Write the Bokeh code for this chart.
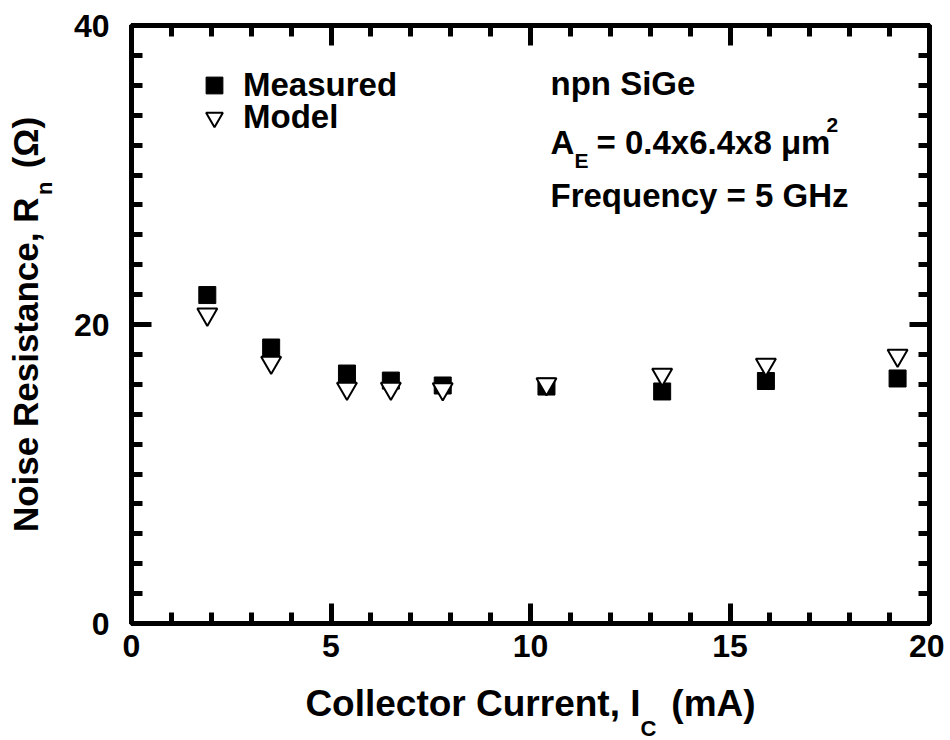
from bokeh.plotting import figure
from bokeh.models import (LinearAxis, SingleIntervalTicker, FixedTicker, Label,
                          Legend, LegendItem, Range1d, Title,
                          CustomJSTickFormatter)
from bokeh.embed import file_html
from bokeh.resources import INLINE

# ---------------- data ----------------
current_ma = [1.9, 3.5, 5.4, 6.5, 7.8, 10.4, 13.3, 15.9, 19.2]
rn_measured = [21.97, 18.46, 16.72, 16.25, 15.92, 15.85, 15.52, 16.22, 16.39]
rn_model = [20.68, 17.46, 15.72, 15.72, 15.69, 16.02, 16.66, 17.32, 17.93]
x_major = 5
y_major = 20
series_names = ["Measured", "Model"]

FONT = "Liberation Sans"
NB = "\u00a0"

# frame placement (canvas pixels)
FL, FR, FT, FB = 131, 929, 25, 623
W, H = 944, 739

p = figure(width=W, height=H, x_range=Range1d(0, 20), y_range=Range1d(0, 40),
           output_backend="svg", toolbar_location=None,
           min_border_left=FL, min_border_right=W - FR,
           min_border_top=FT, min_border_bottom=H - FB)

p.xgrid.visible = False
p.ygrid.visible = False
p.outline_line_color = "black"
p.outline_line_width = 5
p.background_fill_color = "white"
p.border_fill_color = "white"

blank_fmt = CustomJSTickFormatter(code="return ''")

bottom_axis = p.below[0]
left_axis = p.left[0]


def style_axis(ax, ticker, labels=True):
    ax.ticker = ticker
    ax.axis_line_color = None
    ax.major_tick_in = 20
    ax.major_tick_out = 0
    ax.minor_tick_in = 11
    ax.minor_tick_out = 0
    ax.major_tick_line_width = 5
    ax.minor_tick_line_width = 5
    ax.major_tick_line_color = "black"
    ax.minor_tick_line_color = "black"
    ax.major_tick_line_cap = "butt"
    ax.minor_tick_line_cap = "butt"
    if labels:
        ax.major_label_text_font = FONT
        ax.major_label_text_font_style = "bold"
        ax.major_label_text_font_size = "32px"
        ax.major_label_text_color = "black"
    else:
        ax.formatter = blank_fmt
        ax.major_label_standoff = 0


style_axis(bottom_axis, SingleIntervalTicker(interval=x_major, num_minor_ticks=5))
style_axis(left_axis, SingleIntervalTicker(interval=y_major, num_minor_ticks=10))
bottom_axis.major_label_standoff = 11
left_axis.major_label_standoff = 22

top_axis = LinearAxis()
style_axis(top_axis, SingleIntervalTicker(interval=x_major, num_minor_ticks=5), labels=False)
right_axis = LinearAxis()
style_axis(right_axis, SingleIntervalTicker(interval=y_major, num_minor_ticks=10), labels=False)
p.add_layout(top_axis, "above")
p.add_layout(right_axis, "right")

# ---------------- axis titles ----------------
bottom_axis.axis_label = "Collector Current, I" + NB * 3 + "(mA)"
bottom_axis.axis_label_text_font = FONT
bottom_axis.axis_label_text_font_style = "bold"
bottom_axis.axis_label_text_font_size = "37px"
bottom_axis.axis_label_text_color = "black"
bottom_axis.axis_label_standoff = 23

sub_c = Title(text="C", align="left", offset=509, vertical_align="top",
              standoff=-21, text_font=FONT, text_font_style="bold",
              text_font_size="22px", text_color="black")
p.add_layout(sub_c, "below")

sub_n = Title(text="n", align="right", offset=156, vertical_align="bottom",
              standoff=28, text_font=FONT, text_font_style="bold",
              text_font_size="22px", text_color="black")
p.add_layout(sub_n, "left")

ytitle_axis = LinearAxis(ticker=FixedTicker(ticks=[]), axis_line_color=None,
                         major_tick_in=0, major_tick_out=0, minor_tick_in=0,
                         minor_tick_out=0, major_label_standoff=0,
                         axis_label="Noise Resistance, R" + NB * 3 + "(\u03a9)",
                         axis_label_standoff=-29,
                         axis_label_text_font=FONT,
                         axis_label_text_font_style="bold",
                         axis_label_text_font_size="35px",
                         axis_label_text_color="black")
p.add_layout(ytitle_axis, "left")

# ---------------- data marks ----------------
sq = p.scatter(current_ma, rn_measured, marker="square", size=17,
               fill_color="black", line_color="black", line_width=1)
tri = p.scatter(current_ma, rn_model, marker="inverted_triangle", size=20,
                fill_color="white", line_color="black", line_width=2)


def make_legend(name, rend, top_px):
    lg = Legend(items=[LegendItem(label=name, renderers=[rend])],
                location=(193 - FL, FB - top_px - 42),
                glyph_width=42, glyph_height=42, padding=0, margin=0,
                label_standoff=8, label_text_font=FONT,
                label_text_font_style="bold", label_text_font_size="33px",
                label_text_color="black", border_line_color=None,
                background_fill_alpha=0)
    p.add_layout(lg)


make_legend(series_names[0], sq, 64)
make_legend(series_names[1], tri, 96)


def lab(text, px, py, size=33):
    p.add_layout(Label(x=px - FL, y=FB - py, x_units="screen", y_units="screen",
                       text=text, text_font=FONT, text_font_style="bold",
                       text_font_size=f"{size}px", text_color="black",
                       text_align="left", text_baseline="alphabetic"))


# annotation block
lab("npn SiGe", 550, 83)
lab("A", 550, 142)
lab("E", 574, 160, size=21)
lab("= 0.4x6.4x8 \u03bcm", 596, 142)
lab("2", 826, 124, size=21)
lab("Frequency = 5 GHz", 550, 195)

open("out.html", "w").write(file_html(p, INLINE))
